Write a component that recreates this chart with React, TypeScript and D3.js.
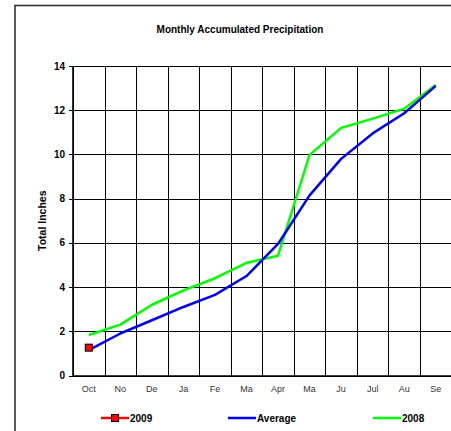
import React, { useEffect, useRef } from "react";
import * as d3 from "d3";

const months = ["Oct", "No", "De", "Ja", "Fe", "Ma", "Apr", "Ma", "Ju", "Jul", "Au", "Se"];
const yTicks = [0, 2, 4, 6, 8, 10, 12, 14];
const series2009 = [1.26];
const seriesAverage = [1.15, 1.9, 2.5, 3.1, 3.65, 4.5, 5.95, 8.15, 9.8, 10.95, 11.86, 13.1];
const series2008 = [1.83, 2.3, 3.2, 3.85, 4.4, 5.1, 5.42, 9.98, 11.2, 11.62, 12.07, 13.14];

const W = 451;
const H = 431;
const font = "'Liberation Sans', Arial, sans-serif";

const App = () => {
  const svgRef = useRef<SVGSVGElement | null>(null);

  useEffect(() => {
    const svg = d3.select(svgRef.current);
    svg.selectAll("*").remove();

    const left = 73, right = 451.5, top = 66, bottom = 375.5;

    const x = d3.scaleBand<number>()
      .domain(months.map((_, i) => i))
      .range([left, right])
      .padding(0);
    const y = d3.scaleLinear().domain([0, 14]).range([bottom, top]);
    const cx = (i: number) => (x(i) as number) + x.bandwidth() / 2;

    svg.append("rect")
      .attr("width", W).attr("height", H).attr("fill", "#fff");

    // outer frame
    svg.append("rect")
      .attr("x", 15).attr("y", 5.5)
      .attr("width", W + 20).attr("height", H + 20)
      .attr("fill", "none").attr("stroke", "#333").attr("stroke-width", 1.6);

    svg.append("text")
      .attr("x", 240).attr("y", 33)
      .attr("text-anchor", "middle")
      .style("font-family", font).style("font-size", "10px").style("font-weight", "bold")
      .text("Monthly Accumulated Precipitation");

    // grid
    const g = svg.append("g");
    g.selectAll("line.h")
      .data(yTicks)
      .enter().append("line")
      .attr("x1", left).attr("x2", right)
      .attr("y1", (d) => Math.round(y(d)) + 0.5).attr("y2", (d) => Math.round(y(d)) + 0.5)
      .attr("stroke", "#000").attr("stroke-width", 1);
    g.selectAll("line.v")
      .data(months.map((_, i) => i).concat([months.length]))
      .enter().append("line")
      .attr("x1", (d) => Math.round(left + d * x.bandwidth()) + 0.5)
      .attr("x2", (d) => Math.round(left + d * x.bandwidth()) + 0.5)
      .attr("y1", top).attr("y2", bottom)
      .attr("stroke", "#000").attr("stroke-width", 1);
    // axes thicker
    g.append("line")
      .attr("x1", left).attr("x2", left).attr("y1", top).attr("y2", bottom + 0.5)
      .attr("stroke", "#000").attr("stroke-width", 1.6);
    g.append("line")
      .attr("x1", left).attr("x2", right).attr("y1", bottom + 0.5).attr("y2", bottom + 0.5)
      .attr("stroke", "#000").attr("stroke-width", 1.6);
    // y tick marks
    g.selectAll("line.yt")
      .data(yTicks)
      .enter().append("line")
      .attr("x1", left - 4).attr("x2", left)
      .attr("y1", (d) => Math.round(y(d)) + 0.5).attr("y2", (d) => Math.round(y(d)) + 0.5)
      .attr("stroke", "#000");

    g.selectAll("text.yl")
      .data(yTicks)
      .enter().append("text")
      .attr("x", 65).attr("y", (d) => y(d) + 3.5)
      .attr("text-anchor", "end")
      .style("font-family", font).style("font-size", "10px").style("font-weight", "bold")
      .text((d) => d);

    g.selectAll("text.xl")
      .data(months)
      .enter().append("text")
      .attr("x", (_, i) => cx(i)).attr("y", 392)
      .attr("text-anchor", "middle")
      .style("font-family", font).style("font-size", "9px").style("fill", "#333")
      .text((d) => d);

    svg.append("text")
      .attr("transform", `translate(45.5, ${(top + bottom) / 2}) rotate(-90)`)
      .attr("text-anchor", "middle")
      .style("font-family", font).style("font-size", "10.5px").style("font-weight", "bold")
      .text("Total Inches");

    const line = d3.line<number>().x((_, i) => cx(i)).y((d) => y(d));

    svg.append("path")
      .attr("d", line(series2008))
      .attr("fill", "none").attr("stroke", "#00ff00").attr("stroke-width", 2.5)
      .attr("stroke-linejoin", "round");
    svg.append("path")
      .attr("d", line(seriesAverage))
      .attr("fill", "none").attr("stroke", "#0000ff").attr("stroke-width", 2.5)
      .attr("stroke-linejoin", "round");
    svg.append("path")
      .attr("d", line(series2009))
      .attr("fill", "none").attr("stroke", "#ff0000").attr("stroke-width", 2.5);
    svg.selectAll("rect.m")
      .data(series2009)
      .enter().append("rect")
      .attr("x", (_, i) => cx(i) - 3.5).attr("y", (d) => y(d) - 3.5)
      .attr("width", 7).attr("height", 7)
      .attr("fill", "#ff0000").attr("stroke", "#000").attr("stroke-width", 1);

    // legend
    const legend = [
      { label: "2009", color: "#ff0000", marker: true, x0: 101 },
      { label: "Average", color: "#0000ff", marker: false, x0: 228 },
      { label: "2008", color: "#00ff00", marker: false, x0: 373 },
    ];
    const ly = 418;
    legend.forEach((l) => {
      svg.append("line")
        .attr("x1", l.x0).attr("x2", l.x0 + 28).attr("y1", ly).attr("y2", ly)
        .attr("stroke", l.color).attr("stroke-width", 2.5);
      if (l.marker) {
        svg.append("rect")
          .attr("x", l.x0 + 10.5).attr("y", ly - 3.5).attr("width", 7).attr("height", 7)
          .attr("fill", l.color).attr("stroke", "#000");
      }
      svg.append("text")
        .attr("x", l.x0 + 29).attr("y", ly + 4)
        .style("font-family", font).style("font-size", "10px").style("font-weight", "bold")
        .text(l.label);
    });
  }, []);

  return (
    <svg
      ref={svgRef}
      width={W}
      height={H}
      style={{ position: "absolute", left: 0, top: 0 }}
    ></svg>
  );
};

export default App;
